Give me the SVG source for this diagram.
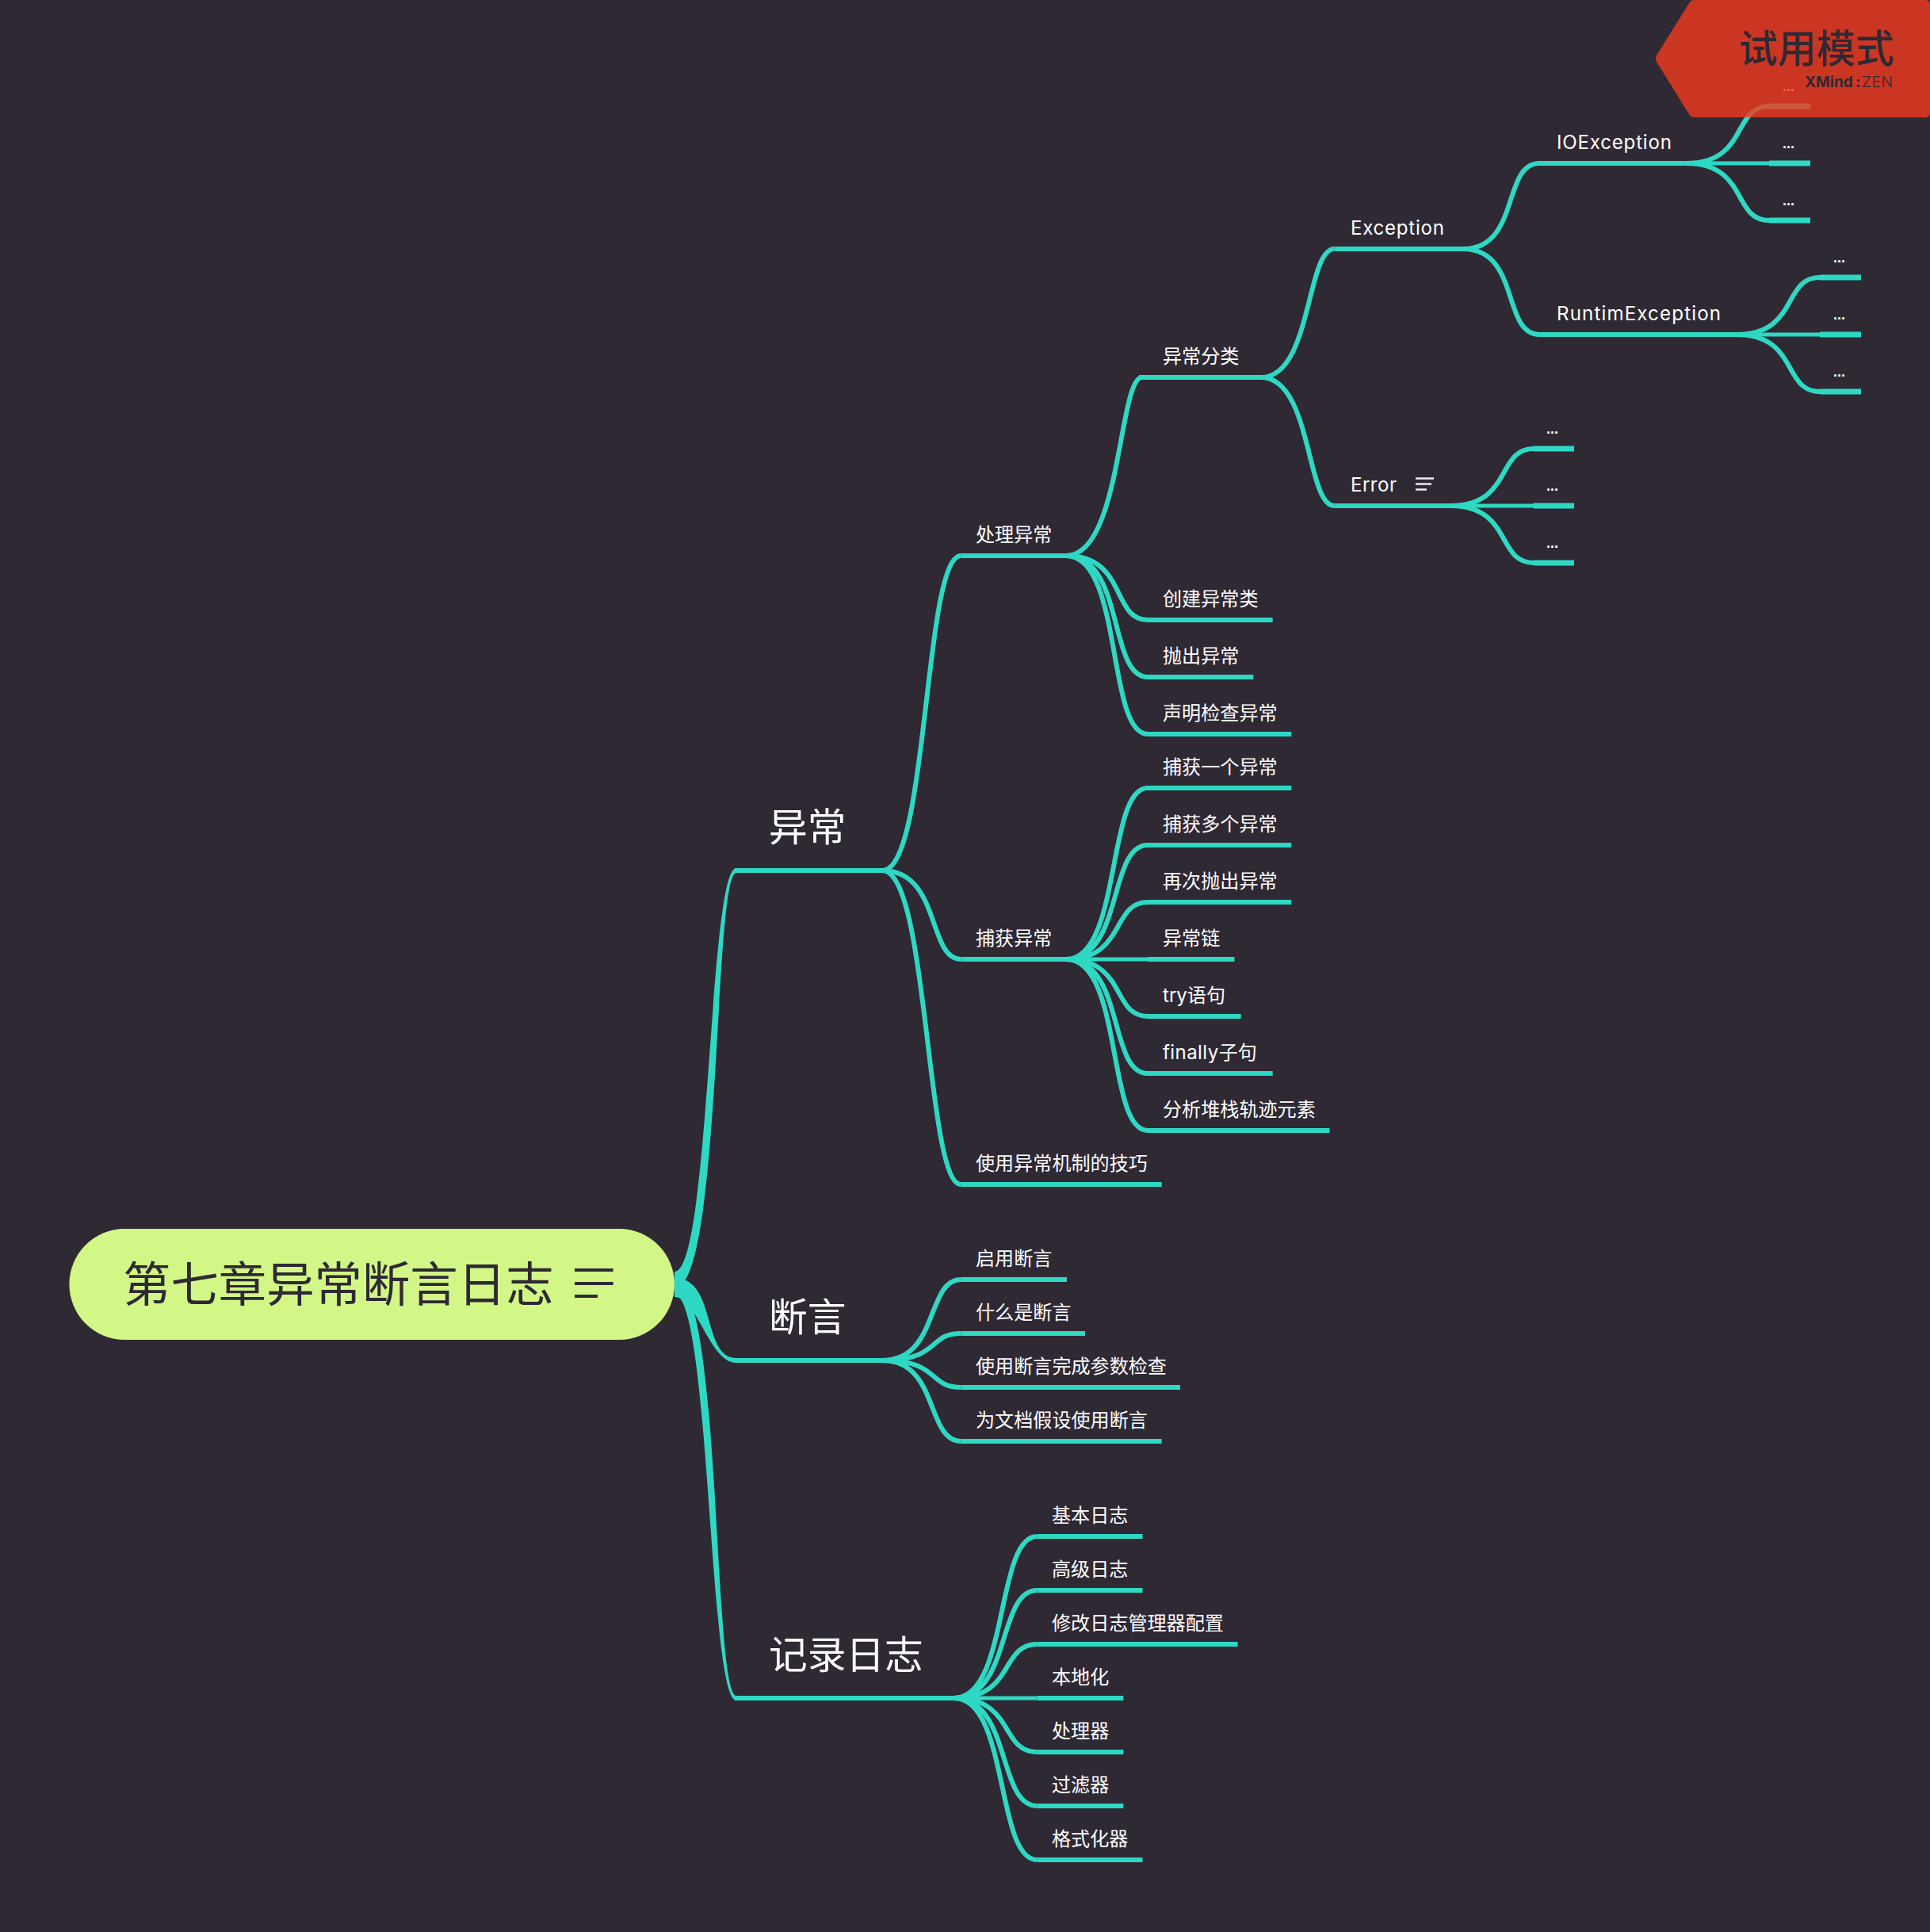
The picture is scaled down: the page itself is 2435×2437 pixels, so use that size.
<svg xmlns="http://www.w3.org/2000/svg" width="2435" height="2437" viewBox="0 0 2435 2437">
<style>
text{font-family:"Noto Sans CJK SC","Noto Sans",sans-serif;fill:#fff}
.r{font-size:60.4px;fill:#2f2934}
.m{font-size:48.7px}
.s{font-size:24.1px}
.l{font-family:Inter,"Noto Sans CJK SC",sans-serif;font-size:24.1px}
.d{font-family:"Liberation Sans",sans-serif;font-weight:700;font-size:18px}
.c{fill:none;stroke:#2ed8c3;stroke-width:6}
.x{stroke-width:5.2}
.t{fill:#2ed8c3}
.u{fill:none;stroke:#2ed8c3;stroke-width:6}
.e{fill:none;stroke:#2ed8c3;stroke-width:6.8}
.i{fill:none;stroke:#2f2934;stroke-width:4}
.j{fill:none;stroke:#fff;stroke-width:2.4;opacity:.9}
.w{fill:#2f2934}
</style>
<rect width="2435" height="2437" fill="#2f2934"/>
<g id="connectors">
<path class="t" d="M851,1604C896,1604 894,1095 929,1095L929,1101C900,1101 911,1625 851,1625Z"/>
<path class="t" d="M851,1612C905,1612 885,1713 929,1713L929,1719C895,1719 880,1636 851,1636Z"/>
<path class="t" d="M851,1633C896,1633 894,2145 929,2145L929,2139C899,2139 911,1615 851,1615Z"/>
<path class="c" d="M1113,1098C1172,1098 1165,701 1212.5,701"/>
<path class="c" d="M1113,1098C1187,1098 1170,1210 1212.5,1210"/>
<path class="c" d="M1113,1098C1172,1098 1168,1494 1212.5,1494"/>
<path class="c" d="M1113,1716C1185,1716 1168,1614 1212.5,1614"/>
<path class="c" d="M1113,1716C1187,1716 1170,1682 1212.5,1682"/>
<path class="c" d="M1113,1716C1187,1716 1170,1750 1212.5,1750"/>
<path class="c" d="M1113,1716C1185,1716 1168,1818 1212.5,1818"/>
<path class="c" d="M1203.6,2142C1273,2142 1256,1938 1308.5,1938"/>
<path class="c" d="M1203.6,2142C1276,2142 1258,2006 1308.5,2006"/>
<path class="c" d="M1203.6,2142C1281,2142 1261,2074 1308.5,2074"/>
<path class="c x" d="M1203.6,2142H1308.5"/>
<path class="c" d="M1203.6,2142C1281,2142 1261,2210 1308.5,2210"/>
<path class="c" d="M1203.6,2142C1276,2142 1258,2278 1308.5,2278"/>
<path class="c" d="M1203.6,2142C1273,2142 1256,2346 1308.5,2346"/>
<path class="c" d="M1345,701C1415,701 1411,476 1441,476"/>
<path class="c" d="M1345,701C1422,701 1402,782 1448,782"/>
<path class="c" d="M1345,701C1419,701 1398,854 1448,854"/>
<path class="c" d="M1345,701C1417,701 1396,926 1448,926"/>
<path class="c" d="M1345,1210C1415,1210 1396,994 1448,994"/>
<path class="c" d="M1345,1210C1417,1210 1398,1066 1448,1066"/>
<path class="c" d="M1345,1210C1420,1210 1402,1138 1448,1138"/>
<path class="c x" d="M1345,1210H1448"/>
<path class="c" d="M1345,1210C1422,1210 1402,1282 1448,1282"/>
<path class="c" d="M1345,1210C1419,1210 1398,1354 1448,1354"/>
<path class="c" d="M1345,1210C1417,1210 1396,1426 1448,1426"/>
<path class="c" d="M1591,476C1655,476 1648,314 1683.5,314"/>
<path class="c" d="M1591,476C1655,476 1648,638 1683.5,638"/>
<path class="c" d="M1846,314C1918,314 1895,206 1942,206"/>
<path class="c" d="M1846,314C1918,314 1895,422 1942,422"/>
<path class="c" d="M2127,206C2206,206 2185,134 2232,134"/>
<path class="c x" d="M2127,206H2232"/>
<path class="c" d="M2127,206C2206,206 2185,278 2232,278"/>
<path class="c" d="M2190,422C2270,422 2248,350 2296,350"/>
<path class="c x" d="M2190,422H2296"/>
<path class="c" d="M2190,422C2270,422 2248,494 2296,494"/>
<path class="c" d="M1829,638C1909,638 1887,566 1935,566"/>
<path class="c x" d="M1829,638H1935"/>
<path class="c" d="M1829,638C1909,638 1887,710 1935,710"/>
</g>
<g id="root"><rect x="87.4" y="1550" width="763.6" height="140" rx="70" fill="#d2f787"/><text class="r" x="155" y="1642">第七章异常断言日志</text><path class="i" d="M725,1602H773.6M725,1619H773.6M725,1635H754"/></g>
<g id="n1"><path class="u" d="M927,1098H1119"/><text class="m" x="970" y="1061">异常</text></g>
<g id="n2"><path class="u" d="M927,1716H1119"/><text class="m" x="970" y="1679">断言</text></g>
<g id="n3"><path class="u" d="M927,2142H1203.6"/><text class="m" x="970" y="2105">记录日志</text></g>
<g id="n11"><path class="u" d="M1212.5,701H1345"/><text class="s" x="1231" y="683">处理异常</text></g>
<g id="n12"><path class="u" d="M1212.5,1210H1345"/><text class="s" x="1231" y="1192">捕获异常</text></g>
<g id="n13"><path class="u" d="M1212.5,1494H1465.7"/><text class="s" x="1231" y="1476">使用异常机制的技巧</text></g>
<g id="n111"><path class="u" d="M1437,476H1591"/><text class="s" x="1467" y="458">异常分类</text></g>
<g id="n112"><path class="u" d="M1448,782H1605.7"/><text class="s" x="1467" y="764">创建异常类</text></g>
<g id="n113"><path class="u" d="M1448,854H1581.4"/><text class="s" x="1467" y="836">抛出异常</text></g>
<g id="n114"><path class="u" d="M1448,926H1629.3"/><text class="s" x="1467" y="908">声明检查异常</text></g>
<g id="n121"><path class="u" d="M1448,994H1629.3"/><text class="s" x="1467" y="976">捕获一个异常</text></g>
<g id="n122"><path class="u" d="M1448,1066H1629.3"/><text class="s" x="1467" y="1048">捕获多个异常</text></g>
<g id="n123"><path class="u" d="M1448,1138H1629.3"/><text class="s" x="1467" y="1120">再次抛出异常</text></g>
<g id="n124"><path class="u" d="M1448,1210H1557.5"/><text class="s" x="1467" y="1192">异常链</text></g>
<g id="n125"><path class="u" d="M1448,1282H1565.7"/><text class="l" x="1467" y="1264">try语句</text></g>
<g id="n126"><path class="u" d="M1448,1354H1605.7"/><text class="l" x="1467" y="1336"><tspan letter-spacing=".4">finally</tspan>子句</text></g>
<g id="n127"><path class="u" d="M1448,1426H1677.5"/><text class="s" x="1467" y="1408">分析堆栈轨迹元素</text></g>
<g id="n1111"><path class="u" d="M1683.5,314H1846"/><text class="l" x="1704" y="296" textLength="118">Exception</text></g>
<g id="n1112"><path class="u" d="M1683.5,638H1829"/><text class="l" x="1704" y="620" textLength="58">Error</text><path class="j" d="M1786,603.5H1809M1786,610.5H1806M1786,617.5H1800"/></g>
<g id="n11111"><path class="u" d="M1942,206H2127"/><text class="l" x="1964" y="188" textLength="145">IOException</text></g>
<g id="n11112"><path class="u" d="M1942,422H2190"/><text class="l" x="1964" y="404" textLength="207">RuntimException</text></g>
<g id="a1"><path class="e" d="M2232,134H2284"/><text class="d" x="2249" y="115">...</text></g>
<g id="a2"><path class="e" d="M2232,206H2284"/><text class="d" x="2249" y="187">...</text></g>
<g id="a3"><path class="e" d="M2232,278H2284"/><text class="d" x="2249" y="259">...</text></g>
<g id="b1"><path class="e" d="M2296,350H2348"/><text class="d" x="2313" y="331">...</text></g>
<g id="b2"><path class="e" d="M2296,422H2348"/><text class="d" x="2313" y="403">...</text></g>
<g id="b3"><path class="e" d="M2296,494H2348"/><text class="d" x="2313" y="475">...</text></g>
<g id="c1"><path class="e" d="M1935,566H1986"/><text class="d" x="1951" y="547">...</text></g>
<g id="c2"><path class="e" d="M1935,638H1986"/><text class="d" x="1951" y="619">...</text></g>
<g id="c3"><path class="e" d="M1935,710H1986"/><text class="d" x="1951" y="691">...</text></g>
<g id="n21"><path class="u" d="M1212.5,1614H1346"/><text class="s" x="1231" y="1596">启用断言</text></g>
<g id="n22"><path class="u" d="M1212.5,1682H1369"/><text class="s" x="1231" y="1664">什么是断言</text></g>
<g id="n23"><path class="u" d="M1212.5,1750H1489"/><text class="s" x="1231" y="1732">使用断言完成参数检查</text></g>
<g id="n24"><path class="u" d="M1212.5,1818H1465.7"/><text class="s" x="1231" y="1800">为文档假设使用断言</text></g>
<g id="n31"><path class="u" d="M1308.5,1938H1441.5"/><text class="s" x="1327" y="1920">基本日志</text></g>
<g id="n32"><path class="u" d="M1308.5,2006H1441.5"/><text class="s" x="1327" y="1988">高级日志</text></g>
<g id="n33"><path class="u" d="M1308.5,2074H1561.6"/><text class="s" x="1327" y="2056">修改日志管理器配置</text></g>
<g id="n34"><path class="u" d="M1308.5,2142H1417.4"/><text class="s" x="1327" y="2124">本地化</text></g>
<g id="n35"><path class="u" d="M1308.5,2210H1417.4"/><text class="s" x="1327" y="2192">处理器</text></g>
<g id="n36"><path class="u" d="M1308.5,2278H1417.4"/><text class="s" x="1327" y="2260">过滤器</text></g>
<g id="n37"><path class="u" d="M1308.5,2346H1441.5"/><text class="s" x="1327" y="2328">格式化器</text></g>
<g id="watermark">
<path d="M2138,0H2429Q2435,0 2435,6V142Q2435,148 2429,148H2138Q2133,148 2131,144L2090,78Q2088,74 2090,70L2131,4Q2133,0 2138,0Z" fill="#f23a1e" fill-opacity=".8"/>
<text x="2194" y="79" font-size="49" font-weight="500" class="w">试用模式</text>
<text x="2277" y="110" font-size="19" class="w" style="font-family:Inter,sans-serif" font-weight="700">XMind</text>
<text x="2341" y="110" font-size="19" class="w" style="font-family:Inter,sans-serif" font-weight="700">:</text>
<text x="2349" y="110" font-size="19" class="w" style="font-family:Inter,sans-serif" font-weight="300" textLength="39">ZEN</text>
</g>
</svg>
